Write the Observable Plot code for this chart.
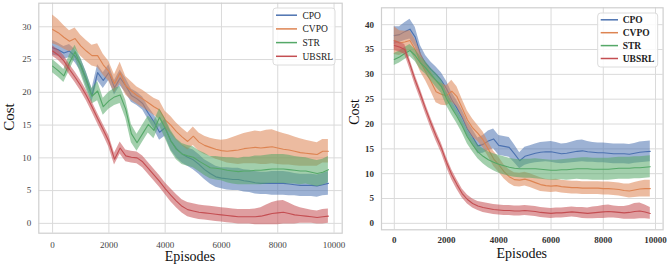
<!DOCTYPE html>
<html><head><meta charset="utf-8">
<script src="https://cdn.jsdelivr.net/npm/d3@7"></script>
<script src="https://cdn.jsdelivr.net/npm/@observablehq/plot@0.6"></script>
<style>
body{margin:0;background:#fff;}
#wrap{position:relative;width:669px;height:267px;overflow:hidden;background:#fff;}
#wrap svg{position:absolute;top:0;}
</style></head><body><div id="wrap"></div>
<script>
const algorithms = ["CPO", "CVPO", "STR", "UBSRL"];
const colors = ["#4C72B0", "#DD8452", "#55A868", "#C44E52"];
const episodes = [0,200,400,600,800,1000,1200,1400,1600,1800,2000,2200,2400,2600,2800,3000,3200,3400,3600,3800,4000,4200,4400,4600,4800,5000,5200,5400,5600,5800,6000,6200,6400,6600,6800,7000,7200,7400,7600,7800,8000,8200,8400,8600,8800,9000,9200,9400,9600,9800];
const xTicks = [0, 2000, 4000, 6000, 8000, 10000];
const yTicksLeft = [0, 5, 10, 15, 20, 25, 30];
const yTicksRight = [0, 5, 10, 15, 20, 25, 30, 35, 40];
const xLabel = "Episodes";
const yLabel = "Cost";

// ---- Left panel: mean cost and band half-width ----
const cpoLeftMean = [26.8,26.5,26.0,26.3,25.5,24.2,22.0,19.5,23.0,21.8, 23.0,20.7,22.2,21.0,19.5,19.0,18.3,16.8,15.5,13.9, 14.6,12.6,11.4,10.6,10.1,9.7,9.0,8.2,7.6,7.1, 6.9,6.8,6.7,6.7,6.5,6.4,6.2,6.1,6.1,6.1, 6.1,6.1,6.0,5.9,5.8,5.8,5.8,5.7,5.9,6.1];
const cpoLeftSpread = [1.1,1.0,1.0,1.0,1.0,1.0,1.1,1.0,1.2,1.2, 1.2,1.1,1.2,1.1,1.0,1.0,1.0,1.0,1.1,1.2, 1.3,1.4,1.4,1.4,1.4,1.5,1.5,1.5,1.6,1.6, 1.6,1.7,1.7,1.7,1.7,1.7,1.7,1.7,1.7,1.8, 1.8,1.8,1.8,1.7,1.7,1.7,1.7,1.7,1.7,1.8];
const cvpoLeftMean = [29.6,29.1,28.4,27.8,28.2,27.1,26.3,25.6,25.6,24.2, 23.2,21.3,23.0,21.0,20.2,19.5,19.0,18.4,17.8,17.3, 15.8,15.0,14.0,13.2,12.5,13.3,12.4,11.9,11.6,11.3, 11.1,11.0,11.1,11.2,11.4,11.5,11.6,11.5,11.6,11.7, 11.5,11.3,11.2,11.0,10.8,10.7,10.6,10.5,11.0,11.0];
const cvpoLeftSpread = [2.2,2.0,1.8,1.6,1.6,1.6,1.6,1.6,1.8,1.6, 1.5,1.4,1.6,1.4,1.4,1.3,1.3,1.3,1.3,1.4, 1.3,1.3,1.3,1.3,1.3,1.4,1.4,1.4,1.4,1.5, 1.6,1.8,2.0,2.2,2.3,2.4,2.5,2.5,2.6,2.6, 2.5,2.4,2.3,2.2,2.1,2.0,1.9,1.8,1.8,1.8];
const strLeftMean = [24.0,23.3,22.5,24.5,26.2,24.0,21.7,19.4,20.2,17.8, 18.7,19.3,19.6,17.4,13.7,12.3,13.7,15.1,14.2,16.2, 14.5,12.6,11.3,10.6,10.3,10.1,9.5,9.0,8.5,8.4, 8.3,8.1,8.0,7.9,8.0,8.0,8.1,8.1,8.2,8.3, 8.3,8.3,8.2,8.1,8.0,8.0,7.8,7.6,7.8,8.2];
const strLeftSpread = [1.0,1.0,1.0,1.2,1.0,1.2,1.3,1.2,1.5,1.3, 1.3,1.3,1.3,1.4,1.4,1.3,1.3,1.3,1.3,1.3, 1.5,1.6,1.6,1.6,1.6,1.6,1.6,1.7,1.7,1.8, 1.8,1.9,2.0,2.0,2.1,2.1,2.2,2.2,2.2,2.2, 2.2,2.2,2.2,2.1,2.1,2.0,2.0,2.0,2.0,2.0];
const ubsrlLeftMean = [26.3,25.7,24.8,23.5,22.3,21.0,19.5,17.8,16.0,14.3, 12.5,9.8,11.5,10.3,10.1,10.0,9.4,8.4,7.4,6.4, 5.3,4.3,3.4,2.6,2.1,1.9,1.7,1.6,1.5,1.4, 1.3,1.2,1.1,1.0,1.0,1.0,1.0,1.1,1.3,1.5, 1.6,1.7,1.5,1.3,1.2,1.1,1.0,0.9,1.0,1.1];
const ubsrlLeftSpread = [0.8,0.8,0.8,0.8,0.8,0.8,0.8,0.8,0.8,0.8, 0.9,0.9,0.9,0.9,0.9,0.9,0.9,0.9,0.9,0.9, 0.9,1.0,1.0,1.0,1.1,1.1,1.1,1.1,1.1,1.1, 1.1,1.1,1.1,1.1,1.1,1.1,1.2,1.3,1.5,1.7, 1.8,1.8,1.6,1.4,1.2,1.1,1.0,1.0,1.1,1.1];

// ---- Right panel ----
const cpoRightMean = [37.8,38.0,38.6,39.1,37.5,34.0,32.2,31.0,30.0,28.8, 27.1,24.9,23.2,21.3,19.0,17.4,15.6,15.9,16.6,17.0, 15.7,15.5,15.3,14.0,12.6,13.5,13.8,14.1,14.3,14.4, 14.4,14.2,14.0,14.1,14.3,14.5,14.6,14.4,14.3,14.2, 14.2,14.1,14.0,14.0,14.0,13.9,14.1,14.3,14.4,14.5];
const cpoRightSpread = [1.8,1.6,1.8,2.0,2.0,1.8,1.6,1.5,1.5,1.5, 1.5,1.5,1.5,1.5,1.5,1.5,1.6,1.8,2.0,2.0, 2.0,2.0,2.0,1.8,1.6,1.8,1.8,1.9,2.0,2.0, 2.1,2.1,2.0,2.0,2.1,2.2,2.2,2.1,2.0,2.0, 2.0,2.0,2.0,2.0,2.0,2.0,2.0,2.1,2.1,2.1];
const cvpoRightMean = [36.8,36.3,36.5,36.8,35.0,32.5,30.5,28.6,26.5,26.0, 25.7,26.6,25.5,23.2,20.8,19.2,18.1,16.8,14.9,13.0, 11.8,10.4,9.4,8.8,8.7,8.9,8.6,8.2,7.8,7.6, 7.5,7.6,7.4,7.3,7.2,7.2,7.1,7.1,7.1,7.1, 7.0,7.0,6.9,6.8,6.6,6.5,6.7,6.9,7.0,7.0];
const cvpoRightSpread = [2.8,2.5,2.2,2.0,2.0,2.0,1.8,2.0,2.2,2.2, 2.0,2.2,2.0,1.8,1.8,1.8,1.6,1.6,1.5,1.5, 1.5,1.4,1.4,1.4,1.4,1.4,1.4,1.4,1.4,1.3, 1.3,1.3,1.3,1.3,1.3,1.3,1.3,1.3,1.3,1.3, 1.3,1.3,1.3,1.3,1.3,1.4,1.5,1.6,1.7,1.7];
const strRightMean = [33.0,33.5,34.2,34.8,33.8,32.3,31.3,30.0,28.8,27.6, 25.1,23.2,21.5,19.6,17.4,15.8,14.4,13.5,12.8,12.3, 11.9,11.6,11.3,11.1,11.0,11.0,11.0,11.0,10.9,10.8, 10.7,10.7,10.8,10.8,10.9,11.0,11.0,11.0,10.9,10.9, 10.9,10.9,11.0,11.1,11.1,11.1,11.2,11.2,11.3,11.4];
const strRightSpread = [1.2,1.2,1.2,1.2,1.2,1.3,1.3,1.3,1.4,1.4, 1.4,1.4,1.4,1.4,1.4,1.4,1.4,1.5,1.6,1.7, 1.8,1.8,1.8,1.8,1.8,1.9,1.9,2.0,2.0,2.0, 2.0,2.0,2.0,2.1,2.1,2.1,2.2,2.2,2.2,2.2, 2.2,2.2,2.2,2.2,2.2,2.2,2.2,2.2,2.2,2.2];
const ubsrlRightMean = [35.8,35.5,35.0,32.0,28.8,26.0,23.0,20.2,17.6,15.2, 12.3,9.8,7.8,6.0,4.8,4.0,3.5,3.2,3.0,2.8, 2.7,2.6,2.6,2.5,2.5,2.6,2.5,2.4,2.2,2.1, 2.0,2.1,2.1,2.2,2.3,2.2,2.1,2.0,2.1,2.2, 2.3,2.4,2.3,2.2,2.1,2.2,2.4,2.5,2.3,2.0];
const ubsrlRightSpread = [1.0,1.0,1.0,1.0,1.0,1.0,1.0,1.0,1.0,1.0, 1.0,1.0,1.0,0.9,0.9,0.9,0.9,1.0,1.0,1.0, 1.0,1.0,1.0,1.0,1.0,1.0,1.0,1.0,1.0,1.0, 1.0,1.0,1.0,1.0,1.0,1.0,1.1,1.1,1.2,1.2, 1.3,1.3,1.2,1.2,1.3,1.4,1.6,1.6,1.4,1.2];

const leftSeries = [[cpoLeftMean, cpoLeftSpread], [cvpoLeftMean, cvpoLeftSpread], [strLeftMean, strLeftSpread], [ubsrlLeftMean, ubsrlLeftSpread]];
const rightSeries = [[cpoRightMean, cpoRightSpread], [cvpoRightMean, cvpoRightSpread], [strRightMean, strRightSpread], [ubsrlRightMean, ubsrlRightSpread]];

function rowsOf(mean, spread) {
  return episodes.map((e, i) => ({episode: e, mean: mean[i], lo: mean[i] - spread[i], hi: mean[i] + spread[i]}));
}

const FONT = "'Liberation Serif', 'Times New Roman', serif";

function panel(cfg) {
  const marks = [
    Plot.gridX(xTicks, {stroke: "#dadada", strokeOpacity: 1, strokeWidth: 1}),
    Plot.gridY(cfg.yTicks, {stroke: "#dadada", strokeOpacity: 1, strokeWidth: 1}),
    Plot.frame({stroke: "#cfcfcf", strokeWidth: 1.2})
  ];
  cfg.series.forEach(([m, s], i) => {
    const rows = rowsOf(m, s);
    marks.push(Plot.areaY(rows, {x: "episode", y1: "lo", y2: "hi", fill: colors[i], fillOpacity: 0.55}));
    marks.push(Plot.lineY(rows, {x: "episode", y: "mean", stroke: colors[i], strokeWidth: 1.1}));
  });
  marks.push(Plot.axisX({ticks: xTicks, tickSize: 0, tickPadding: cfg.xPad, tickFormat: d3.format("d"), label: null, fill: cfg.tickColor, fontWeight: cfg.weight, fontFamily: FONT, fontSize: 9}));
  marks.push(Plot.axisY({ticks: cfg.yTicks, tickSize: 0, tickPadding: 7.5, tickFormat: d3.format("d"), label: null, fill: cfg.tickColor, fontWeight: cfg.weight, fontFamily: FONT, fontSize: 9}));
  const svg = Plot.plot({
    width: cfg.width, height: 267,
    marginLeft: cfg.ml, marginRight: cfg.mr, marginTop: cfg.mt, marginBottom: cfg.mb,
    x: {domain: [-490, 10290], label: null},
    y: {domain: cfg.yDomain, label: null},
    style: {fontFamily: FONT, fontSize: "9px", background: "transparent", overflow: "visible"},
    marks
  });
  svg.style.left = cfg.left + "px";
  const g = d3.select(svg).append("g").attr("font-family", FONT);
  // axis titles
  g.append("text").attr("transform", `translate(${cfg.yLabelX},${cfg.yLabelY}) rotate(-90)`)
    .attr("text-anchor", "middle").attr("font-size", cfg.yLabelSize).attr("fill", "#111").text(yLabel);
  g.append("text").attr("x", cfg.xLabelX).attr("y", cfg.xLabelY)
    .attr("text-anchor", "middle").attr("font-size", 14).attr("fill", "#111").text(xLabel);
  // legend
  const L = cfg.legend;
  g.append("rect").attr("x", L.x).attr("y", L.y).attr("width", L.w).attr("height", L.h).attr("rx", 3)
    .attr("fill", "#fff").attr("fill-opacity", 0.85).attr("stroke", "#dcdcdc").attr("stroke-width", 1);
  algorithms.forEach((a, i) => {
    const yy = L.y0 + i * L.dy;
    g.append("line").attr("x1", L.lx1).attr("x2", L.lx2).attr("y1", yy).attr("y2", yy)
      .attr("stroke", colors[i]).attr("stroke-width", 1.5);
    g.append("text").attr("x", L.tx).attr("y", yy).attr("dy", "0.35em").attr("font-size", 9.5)
      .attr("text-anchor", "start")
      .attr("font-weight", cfg.weight).attr("fill", "#222").text(a);
  });
  document.getElementById("wrap").appendChild(svg);
}

panel({
  left: 0, width: 345, ml: 38.3, mr: 3.3, mt: 2.7, mb: 34.3,
  yDomain: [-1.5, 33.6], yTicks: yTicksLeft, series: leftSeries, xPad: 8.5,
  tickColor: "#444", weight: "normal",
  yLabelX: 14, yLabelY: 117, yLabelSize: 15, xLabelX: 190, xLabelY: 261,
  legend: {x: 273, y: 8, w: 62, h: 57, y0: 15.2, dy: 13.7, lx1: 276, lx2: 297, tx: 302.5}
});
panel({
  left: 345, width: 324, ml: 36, mr: 6.4, mt: 7.3, mb: 37.7,
  yDomain: [-1.3, 43.4], yTicks: yTicksRight, series: rightSeries, xPad: 6.5,
  tickColor: "#333", weight: "bold",
  yLabelX: 14, yLabelY: 112, yLabelSize: 14, xLabelX: 176.8, xLabelY: 258,
  legend: {x: 252.7, y: 13, w: 60, h: 54, y0: 19.8, dy: 12.9, lx1: 255.7, lx2: 273, tx: 277.7}
});
</script></body></html>
